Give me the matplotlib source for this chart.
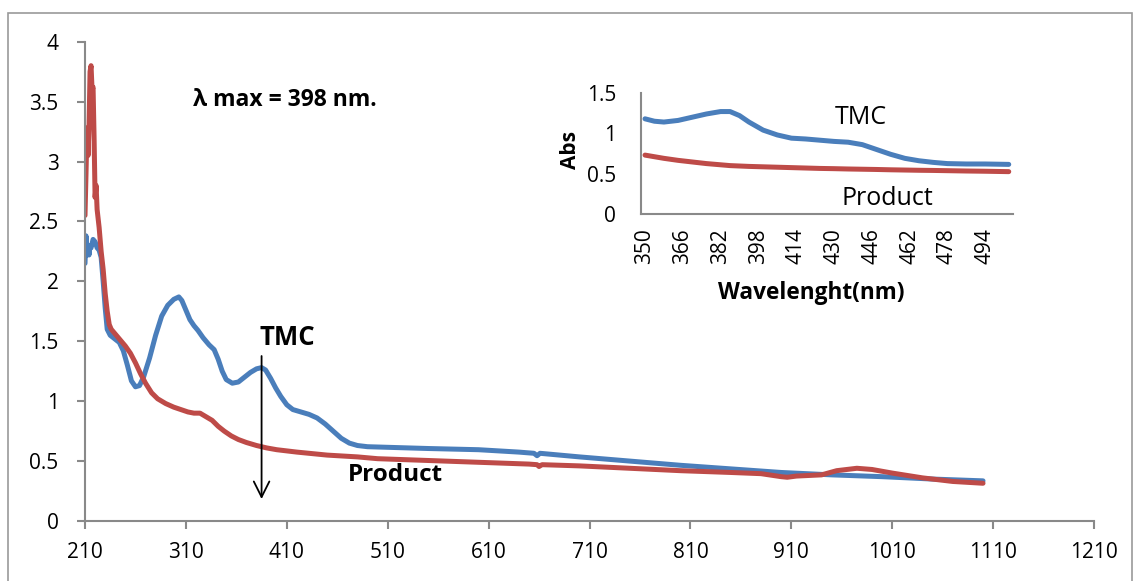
import matplotlib
matplotlib.use("Agg")
import matplotlib.pyplot as plt
from matplotlib.patches import Rectangle

plt.rcParams['font.family'] = ['Open Sans', 'DejaVu Sans']

# ---- main spectrum (nm, Abs) ----
tmc_nm = [210, 211, 212, 213, 214, 215, 216, 218, 220, 222, 224, 226, 228, 230, 232, 235, 238, 244,
          248, 252, 256, 260, 264, 268, 274, 280, 286, 292, 298, 303, 306, 310, 314, 318,
          322, 327, 333, 338, 342, 346, 350, 356, 362, 368, 374, 380, 385, 389, 394, 399,
          404, 410, 416, 424, 432, 440, 448, 456, 464, 472, 480, 490, 510, 550, 600, 640,
          655, 658, 661, 700, 750, 800, 850, 900, 950, 1000, 1050, 1100]
tmc_abs = [2.15, 2.38, 2.22, 2.30, 2.22, 2.30, 2.28, 2.35, 2.33, 2.28, 2.26, 2.20, 2.00, 1.78, 1.60, 1.55, 1.53, 1.49,
           1.42, 1.30, 1.17, 1.12, 1.13, 1.20, 1.36, 1.55, 1.71, 1.80, 1.85, 1.87, 1.84, 1.76, 1.68, 1.63,
           1.59, 1.53, 1.47, 1.43, 1.35, 1.25, 1.18, 1.15, 1.16, 1.20, 1.24, 1.27, 1.28, 1.26, 1.19, 1.11,
           1.04, 0.97, 0.93, 0.91, 0.89, 0.86, 0.81, 0.75, 0.69, 0.65, 0.63, 0.62, 0.615, 0.605, 0.595, 0.575,
           0.565, 0.545, 0.565, 0.535, 0.50, 0.465, 0.435, 0.405, 0.385, 0.37, 0.35, 0.335]

prod_nm = [210, 211, 212, 213, 214, 215, 216, 217, 218, 219, 220, 221, 222, 224, 226, 228,
           230, 232, 234, 236, 240, 245, 250, 255, 260, 265, 270, 276, 282, 290, 298, 305,
           312, 318, 324, 330, 336, 342, 348, 355, 362, 370, 380, 390, 400, 420, 450, 480,
           500, 550, 600, 650, 658, 660, 663, 700, 750, 800, 850, 880, 900, 906, 915, 940,
           955, 975, 990, 1010, 1040, 1070, 1100]
prod_abs = [2.55, 2.90, 3.28, 3.05, 3.30, 3.75, 3.80, 3.60, 3.62, 3.20, 2.70, 2.80, 2.60, 2.45, 2.25, 2.10,
            1.90, 1.75, 1.64, 1.60, 1.56, 1.51, 1.46, 1.40, 1.32, 1.23, 1.15, 1.07, 1.02, 0.98, 0.95, 0.93,
            0.91, 0.90, 0.90, 0.87, 0.84, 0.79, 0.75, 0.71, 0.68, 0.655, 0.63, 0.61, 0.595, 0.575, 0.55, 0.535,
            0.52, 0.505, 0.49, 0.475, 0.47, 0.455, 0.47, 0.46, 0.44, 0.42, 0.405, 0.395, 0.37, 0.365, 0.375, 0.385,
            0.42, 0.44, 0.43, 0.40, 0.36, 0.33, 0.315]

x_ticks = [210, 310, 410, 510, 610, 710, 810, 910, 1010, 1110, 1210]
y_ticks = [0, 0.5, 1, 1.5, 2, 2.5, 3, 3.5, 4]

# ---- inset (zoom 350-500 nm) ----
in_nm = [350, 354, 358, 364, 370, 376, 382, 386, 390, 394, 400, 406, 412, 418, 424, 430,
         436, 442, 448, 454, 460, 466, 472, 478, 486, 494, 504]
in_tmc = [1.18, 1.15, 1.14, 1.16, 1.20, 1.24, 1.27, 1.27, 1.22, 1.14, 1.04, 0.98, 0.94, 0.93, 0.915, 0.90,
          0.89, 0.86, 0.80, 0.74, 0.69, 0.66, 0.64, 0.625, 0.62, 0.62, 0.615]
in_prod = [0.73, 0.71, 0.69, 0.665, 0.645, 0.625, 0.61, 0.60, 0.595, 0.59, 0.585, 0.58, 0.575, 0.57, 0.565, 0.562,
           0.558, 0.555, 0.552, 0.548, 0.545, 0.542, 0.54, 0.537, 0.533, 0.53, 0.525]
in_x_ticks = [350, 366, 382, 398, 414, 430, 446, 462, 478, 494]
in_y_ticks = [0, 0.5, 1, 1.5]

blue = '#4A7EBB'
red = '#BE4B48'
grey = '#898989'

fig = plt.figure(figsize=(11.37, 5.81), dpi=100)
fig.patches.append(Rectangle((8 / 1137, -0.02), 1124 / 1137, 1 - 13 / 581 + 0.02,
                             transform=fig.transFigure, fill=False, edgecolor='#9a9a9a', lw=1.2))

ax = fig.add_axes([85 / 1137, 1 - 521 / 581, (1094 - 85) / 1137, (521 - 41.7) / 581])
ax.plot(tmc_nm, tmc_abs, color=blue, lw=3.6, solid_capstyle='round', solid_joinstyle='round')
ax.plot(prod_nm, prod_abs, color=red, lw=3.6, solid_capstyle='round', solid_joinstyle='round')
ax.set_xlim(210, 1210)
ax.set_ylim(0, 4)
ax.set_xticks(x_ticks)
ax.set_xticklabels([str(v) for v in x_ticks])
ax.set_yticks(y_ticks)
ax.set_yticklabels(['0', '0.5', '1', '1.5', '2', '2.5', '3', '3.5', '4'])
for s in ['top', 'right']:
    ax.spines[s].set_visible(False)
for s in ['left', 'bottom']:
    ax.spines[s].set_color(grey)
    ax.spines[s].set_linewidth(1.5)
ax.tick_params(axis='both', colors=grey, labelcolor='black', labelsize=15, width=1.5, length=6)
ax.tick_params(axis='x', pad=9)
ax.tick_params(axis='y', pad=13)

ax.text(317, 3.51, 'λ max = 398 nm.', fontsize=16.5, fontweight='bold', ha='left', va='center')
ax.text(383, 1.53, 'TMC', fontsize=18.5, fontweight='bold', ha='left', va='center')
ax.text(471, 0.38, 'Product', fontsize=17.5, fontweight='bold', ha='left', va='center')
ax.annotate('', xy=(385, 0.16), xytext=(385, 1.40),
            arrowprops=dict(arrowstyle='->', color='black', lw=1.3, mutation_scale=28))

# inset
axi = fig.add_axes([641 / 1137, 1 - 214 / 581, (1013 - 641) / 1137, (214 - 93) / 581])
axi.plot(in_nm, in_tmc, color=blue, lw=3.6, solid_capstyle='round')
axi.plot(in_nm, in_prod, color=red, lw=3.6, solid_capstyle='round')
axi.set_xlim(348.3, 505.8)
axi.set_ylim(0, 1.5)
axi.set_xticks(in_x_ticks)
axi.set_xticklabels([str(v) for v in in_x_ticks], rotation=90)
axi.set_yticks(in_y_ticks)
axi.set_yticklabels(['0', '0.5', '1', '1.5'])
for s in ['top', 'right']:
    axi.spines[s].set_visible(False)
for s in ['left', 'bottom']:
    axi.spines[s].set_color(grey)
    axi.spines[s].set_linewidth(1.5)
axi.tick_params(axis='both', length=0, labelsize=15)
axi.tick_params(axis='x', pad=10)
axi.tick_params(axis='y', pad=18)
axi.text(430.4, 1.2, 'TMC', fontsize=18, ha='left', va='center')
axi.text(433, 0.19, 'Product', fontsize=18, ha='left', va='center')
axi.text(-0.19, 0.53, 'Abs', fontsize=15, fontweight='bold', rotation=90,
         ha='center', va='center', transform=axi.transAxes)
axi.text(0.457, -0.65, 'Wavelenght(nm)', fontsize=16.3, fontweight='bold',
         ha='center', va='center', transform=axi.transAxes)

fig.savefig('out.png', dpi=100)
